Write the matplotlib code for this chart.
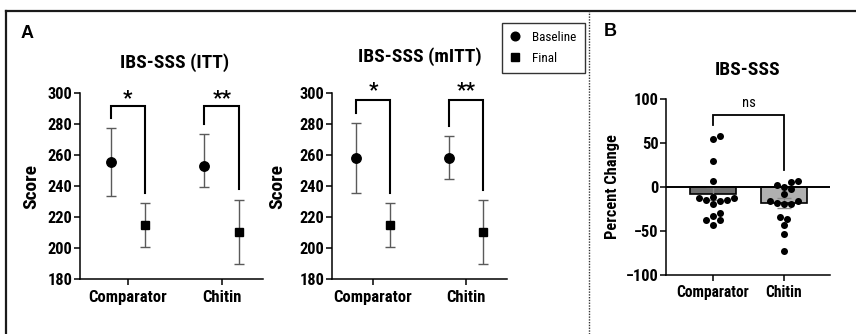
import matplotlib
matplotlib.use("Agg")
import matplotlib.pyplot as plt
from matplotlib.lines import Line2D
import numpy as np

FAMILY = ['Roboto Condensed', 'Liberation Sans', 'DejaVu Sans']
plt.rcParams['font.family'] = FAMILY

# ---------------- data ----------------
groups = ['Comparator', 'Chitin']

# IBS-SSS scores (mean with lower / upper error limits)
itt_baseline = [255.5, 253.3]
itt_baseline_lo = [233.8, 239.8]
itt_baseline_hi = [277.4, 273.8]
itt_final = [215.1, 210.8]
itt_final_lo = [200.6, 189.9]
itt_final_hi = [229.5, 231.2]

mitt_baseline = [258.5, 258.5]
mitt_baseline_lo = [235.9, 244.7]
mitt_baseline_hi = [281.1, 272.5]
mitt_final = [215.1, 210.8]
mitt_final_lo = [201.1, 189.9]
mitt_final_hi = [229.5, 231.2]

itt_sig = ['*', '**']
mitt_sig = ['*', '**']

# percent change in IBS-SSS per participant
change_comparator = [58, 55, 29, 7, -12, -11, -13, -15, -16, -15, -19, -29, -33, -37, -37, -43]
change_chitin = [6, -2, 2, 7, 0, -8, -16, -19, -19, -18, -16, -34, -36, -43, -53, -73]
change_mean = [-7.5, -18.0]
change_sem = [7.5, 6.0]
change_sig = 'ns'

# ---------------- layout ----------------
W, H = 856, 334
fig = plt.figure(figsize=(W / 100, H / 100), dpi=100)


def axes_px(left, right, top, bottom):
    return fig.add_axes([left / W, 1 - bottom / H, (right - left) / W, (bottom - top) / H])


LW = 1.1
XTICK_SIZE = 12
YTICK_SIZE = 11.8


def style_axes(ax):
    for s in ('top', 'right'):
        ax.spines[s].set_visible(False)
    for s in ('left', 'bottom'):
        ax.spines[s].set_linewidth(LW)
    ax.tick_params(axis='y', width=LW, length=4, pad=1.5, labelsize=YTICK_SIZE, direction='out')
    ax.tick_params(axis='x', width=LW, length=4.5, pad=3, labelsize=XTICK_SIZE, direction='out')
    for lab in ax.get_xticklabels() + ax.get_yticklabels():
        lab.set_fontweight('bold')


OFF = 0.185


def score_panel(ax, base, base_lo, base_hi, fin, fin_lo, fin_hi, sig, brackets, xlim):
    x = np.arange(len(groups))
    xb = x - OFF
    xf = x + OFF
    base = np.array(base); fin = np.array(fin)
    ax.errorbar(xb, base, yerr=[base - np.array(base_lo), np.array(base_hi) - base],
                fmt='o', color='black', ms=6.8, ecolor='#5a5a5a', elinewidth=1.0,
                capsize=3.6, capthick=1.0, zorder=3)
    ax.errorbar(xf, fin, yerr=[fin - np.array(fin_lo), np.array(fin_hi) - fin],
                fmt='s', color='black', ms=6.2, ecolor='#5a5a5a', elinewidth=1.0,
                capsize=3.6, capthick=1.0, zorder=3)
    ax.set_ylim(180, 300)
    ax.set_yticks([180, 200, 220, 240, 260, 280, 300])
    ax.set_xlim(*xlim)
    ax.set_xticks(x)
    ax.set_xticklabels(groups)
    ax.set_ylabel('Score', fontsize=14, fontweight='bold')
    for i, (top, lb, rb, ys) in enumerate(brackets):
        ax.plot([xb[i], xb[i], xf[i], xf[i]], [lb, top, top, rb], color='black',
                lw=1.5, clip_on=False, zorder=2, solid_joinstyle='miter')
        ax.text((xb[i] + xf[i]) / 2, ys, sig[i], ha='center', va='center',
                fontsize=15, fontweight='bold', clip_on=False)
    style_axes(ax)


# Panel A, ITT
ax1 = axes_px(80, 263, 93.3, 279.3)
score_panel(ax1, itt_baseline, itt_baseline_lo, itt_baseline_hi,
            itt_final, itt_final_lo, itt_final_hi, itt_sig,
            [(291.8, 283.9, 235.9, 296.5), (291.8, 280.2, 238.1, 296.5)],
            (-0.51, 1.44))
ax1.yaxis.set_label_coords(-0.215, 0.5)

# Panel A, mITT
ax2 = axes_px(332, 507, 93.3, 279.3)
score_panel(ax2, mitt_baseline, mitt_baseline_lo, mitt_baseline_hi,
            mitt_final, mitt_final_lo, mitt_final_hi, mitt_sig,
            [(295.7, 287.1, 235.9, 301.5), (295.7, 279.0, 237.6, 301.5)],
            (-0.44, 1.44))
ax2.yaxis.set_label_coords(-0.262, 0.5)

# Panel B, percent change
ax3 = axes_px(666, 830, 99, 275)
ax3.set_xlim(-0.662, 1.648)
ax3.set_ylim(-100, 100)
ax3.set_yticks([-100, -50, 0, 50, 100])
ax3.set_xticks([0, 1])
ax3.set_xticklabels(groups)
ax3.bar([0, 1], change_mean, width=0.66, color=['#6f6f6f', '#b0b0b0'],
        edgecolor='black', linewidth=1.2, zorder=2)
ax3.errorbar([0, 1], change_mean, yerr=change_sem, fmt='none', ecolor='#8a8a8a',
             elinewidth=1.0, capsize=5, capthick=1.0, zorder=3)
ax3.axhline(0, color='black', lw=1.4, zorder=4)
ax3.set_ylabel('Percent Change', fontsize=11.9, fontweight='bold')
ax3.yaxis.set_label_coords(-0.28, 0.5)
style_axes(ax3)
ax3.tick_params(axis='x', labelsize=11.2)
fig.canvas.draw()


def swarm_x(ax, center, values, diam_px):
    """Simple beeswarm: place points one by one at the smallest free offset."""
    order = np.argsort(values)
    placed = []  # pixel coordinates of placed points
    xs = np.zeros(len(values))
    to_px = ax.transData.transform
    from_px = ax.transData.inverted().transform
    cx_px = to_px((center, 0))[0]
    for idx in order:
        ypx = to_px((center, values[idx]))[1]
        k = 0
        while True:
            cands = [0.0] if k == 0 else [k * diam_px * 0.5, -k * diam_px * 0.5]
            ok = None
            for c in cands:
                p = np.array([cx_px + c, ypx])
                if all(np.hypot(*(p - q)) >= diam_px for q in placed):
                    ok = p
                    break
            if ok is not None:
                placed.append(ok)
                xs[idx] = from_px(ok)[0]
                break
            k += 1
    return xs


DOT_PX = 7.0
for gi, vals in enumerate([change_comparator, change_chitin]):
    xs = swarm_x(ax3, gi, np.array(vals, dtype=float), DOT_PX)
    ax3.scatter(xs, vals, s=(DOT_PX * 0.72) ** 2, color='black', zorder=5,
                linewidths=0, clip_on=False)

# significance bracket for panel B
ax3.plot([0, 0, 1, 1], [70.5, 81.8, 81.8, 19.3], color='black', lw=1.3,
         clip_on=False, solid_joinstyle='miter')
ax3.text(0.5, 95, change_sig, ha='center', va='center', fontsize=10.5)

# titles
TITLE_SIZE = 14
fig.text(175 / W, 1 - 63 / H, 'IBS-SSS (ITT)', ha='center', va='center',
         fontsize=TITLE_SIZE, fontweight='bold')
fig.text(420 / W, 1 - 57 / H, 'IBS-SSS (mITT)', ha='center', va='center',
         fontsize=TITLE_SIZE, fontweight='bold')
fig.text(748 / W, 1 - 70 / H, 'IBS-SSS', ha='center', va='center',
         fontsize=TITLE_SIZE, fontweight='bold')

# panel letters
fig.text(27 / W, 1 - 33 / H, 'A', ha='center', va='center', fontsize=13,
         fontweight='heavy', family=['Liberation Sans', 'DejaVu Sans'])
fig.text(610 / W, 1 - 31 / H, 'B', ha='center', va='center', fontsize=13,
         fontweight='heavy', family=['Liberation Sans', 'DejaVu Sans'])

# legend
handles = [Line2D([], [], marker='o', ls='none', color='black', ms=6.2),
           Line2D([], [], marker='s', ls='none', color='black', ms=5.6)]
leg = fig.legend(handles, ['Baseline', 'Final'], loc='upper left',
                 bbox_to_anchor=(502 / W, 1 - 23 / H), bbox_transform=fig.transFigure,
                 frameon=True, fancybox=False, edgecolor='black', borderaxespad=0,
                 handlelength=0.8, handletextpad=0.9, borderpad=0.6,
                 labelspacing=0.6, prop={'size': 9.5, 'family': FAMILY})
leg.get_frame().set_linewidth(1.0)

# figure frame and panel divider
fig.add_artist(Line2D([6 / W, 1], [1 - 11 / H, 1 - 11 / H], color='#1a1a1a', lw=1.6))
fig.add_artist(Line2D([6 / W, 6 / W], [0, 1 - 11 / H], color='#1a1a1a', lw=1.6))
fig.add_artist(Line2D([589 / W, 589 / W], [0, 1 - 11 / H], color='#333333', lw=1.0,
                      ls=(0, (1, 1))))

fig.savefig('out.png', dpi=100)
